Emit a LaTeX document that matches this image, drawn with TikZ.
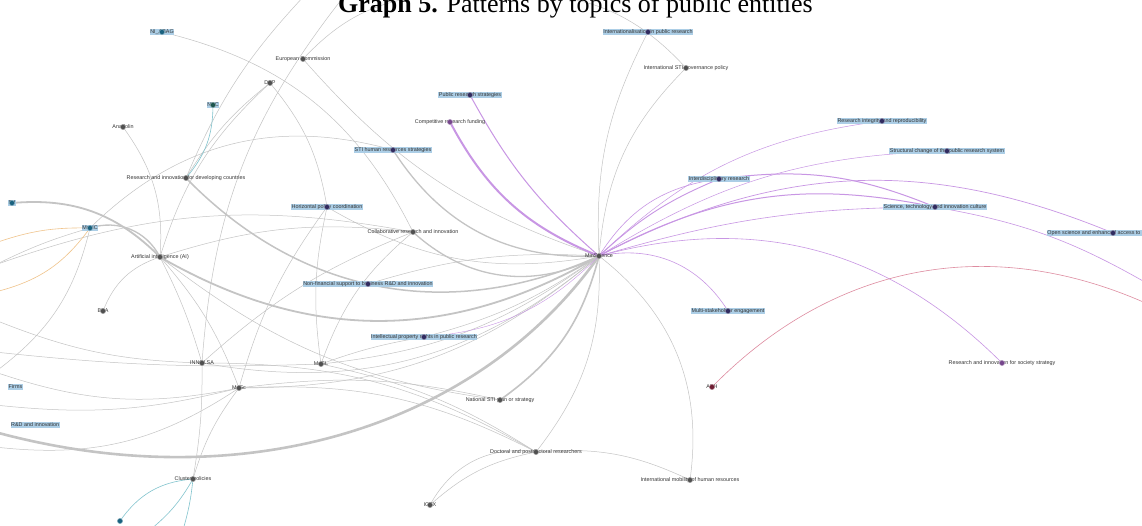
\documentclass[tikz,border=0pt]{standalone}
\usepackage{fontspec}
\setmainfont{Liberation Serif}
\newfontfamily\labelfont{Liberation Sans}
\usepackage{tikz}
\usetikzlibrary{backgrounds}

\definecolor{edgegray}{RGB}{196,196,196}
\definecolor{edgepurple}{RGB}{200,150,228}
\definecolor{edgeorange}{RGB}{240,196,140}
\definecolor{edgeteal}{RGB}{130,196,206}
\definecolor{edgepink}{RGB}{222,140,160}
\definecolor{hlblue}{RGB}{172,206,230}
\definecolor{dotgray}{RGB}{80,80,80}
\definecolor{dotnavy}{RGB}{48,44,96}
\definecolor{dotpurple}{RGB}{118,70,140}
\definecolor{dotteal}{RGB}{28,84,78}
\definecolor{dotblue}{RGB}{26,98,128}
\definecolor{dotred}{RGB}{112,30,52}

\begin{document}
\begin{tikzpicture}[x=1pt,y=-1pt,
        topic/.style={font=\labelfont\fontsize{5.4}{6}\selectfont, text=black!80, inner sep=0.6pt},
        hltopic/.style={topic, fill=hlblue},
        gedge/.style={draw=edgegray, line width=0.5pt},
        pedge/.style={draw=edgepurple, line width=0.6pt},
        oedge/.style={draw=edgeorange, line width=0.6pt},
        tedge/.style={draw=edgeteal, line width=0.6pt}]
    \useasboundingbox (0,0) rectangle (1142,525);
    \node[font=\fontsize{26}{30}\selectfont, anchor=base west, inner sep=0pt] (title) at (338,12) {\textbf{Graph 5.} Patterns by topics of public entities};

    % topics and entities
    \node[hltopic] (niabag) at (162,32) {NI\_ABAG};
    \node[topic] (eucom) at (303,59) {European Commission};
    \node[topic] (dsp) at (270,83) {DSP};
    \node[hltopic] (nsc) at (213,105) {NSC};
    \node[topic] (anad) at (123,127) {Anadolin};
    \node[topic] (rideveloping) at (186,178) {Research and innovation for developing countries};
    \node[hltopic] (stihr) at (393,150) {STI human resources strategies};
    \node[hltopic] (pubstrat) at (470,95) {Public research strategies};
    \node[topic] (compfund) at (450,122) {Competitive research funding};
    \node[hltopic] (intpub) at (648,32) {Internationalisation in public research};
    \node[topic] (intgov) at (686,68) {International STI governance policy};
    \node[hltopic] (integrity) at (882,121) {Research integrity and reproducibility};
    \node[hltopic] (structural) at (947,151) {Structural change of the public research system};
    \node[hltopic] (interdisc) at (719,179) {Interdisciplinary research};
    \node[hltopic] (culture) at (935,207) {Science, technology and innovation culture};
    \node[hltopic] (openscience) at (1113,233) {Open science and enhanced access to public research};
    \node[topic] (mins) at (599,256) {MinScience};
    \node[hltopic] (multi) at (728,311) {Multi-stakeholder engagement};
    \node[topic] (society) at (1002,363) {Research and innovation for society strategy};
    \node[topic] (aeh) at (712,387) {AEH};
    \node[hltopic] (horiz) at (327,207) {Horizontal policy coordination};
    \node[topic] (collab) at (413,232) {Collaborative research and innovation};
    \node[hltopic] (ed) at (12,203) {Ed};
    \node[hltopic] (mohc) at (90,228) {MoHC};
    \node[topic] (ai) at (160,257) {Artificial intelligence (AI)};
    \node[hltopic] (nonfin) at (368,284) {Non-financial support to business R\&D and innovation};
    \node[topic] (bsa) at (103,311) {BSA};
    \node[hltopic] (iprights) at (424,337) {Intellectual property rights in public research};
    \node[topic] (innolsa) at (202,363) {INNOLSA};
    \node[topic] (mosc) at (239,388) {MoSc};
    \node[topic] (mosl) at (321,364) {MoSL};
    \node[hltopic, anchor=east] (firms) at (23,387) {Firms};
    \node[hltopic, anchor=east] (rdinno) at (60,425) {R\&D and innovation};
    \node[topic] (natplan) at (500,400) {National STI plan or strategy};
    \node[topic] (doctoral) at (536,452) {Doctoral and postdoctoral researchers};
    \node[topic] (mobility) at (690,480) {International mobility of human resources};
    \node[topic] (icex) at (430,505) {ICEX};
    \node[topic] (cluster) at (193,479) {Cluster policies};
    \coordinate (tealdot) at (120,521);

    % loose ends leaving the frame
    \coordinate (topA) at (345,-5);
    \coordinate (topB) at (430,-5);
    \coordinate (topC) at (510,-5);
    \coordinate (topD) at (305,-5);
    \coordinate (lftA) at (-5,243);
    \coordinate (lftB) at (-5,292);
    \coordinate (lftC) at (-5,265);
    \coordinate (lftD) at (-5,352);
    \coordinate (lftE) at (-5,372);
    \coordinate (lftF) at (-5,405);
    \coordinate (lftG) at (-5,432);
    \coordinate (lftH) at (-5,447);
    \coordinate (lftI) at (-5,320);
    \coordinate (rgtA) at (1150,285);
    \coordinate (rgtB) at (1150,305);
    \coordinate (botA) at (150,530);
    \coordinate (botB) at (183,530);

    \begin{scope}[on background layer]
        \fill[white] (0,0) rectangle (1142,525);
        \clip (0,0) rectangle (1142,525);
        % thick links
        \draw[gedge, line width=2.6pt] (lftG) .. controls +(250,68) and +(-120,170) .. (mins.center);
        \draw[gedge, line width=1.8pt, bend right=30] (ai.center) to (mins.center);
        \draw[gedge, line width=1.8pt, bend left=25] (ed.center) to (ai.center);
        \draw[gedge, line width=1.5pt, bend right=35] (rideveloping.center) to (mins.center);
        \draw[gedge, line width=1.3pt, bend left=40] (mohc.center) to (ai.center);
        \draw[gedge, line width=1.3pt, bend right=35] (collab.center) to (mins.center);
        \draw[gedge, line width=1.3pt, bend right=30] (stihr.center) to (mins.center);
        \draw[gedge, line width=1.6pt, bend right=20] (natplan.center) to (mins.center);
        % thin links
        \draw[gedge, bend left=25] (niabag.center) to (collab.center);
        \draw[gedge, bend left=20] (eucom.center) to (topB);
        \draw[gedge, bend right=15] (eucom.center) to (mins.center);
        \draw[gedge, bend right=10] (dsp.center) to (rideveloping.center);
        \draw[gedge, bend left=15] (dsp.center) to (horiz.center);
        \draw[gedge, bend right=15] (dsp.center) to (ai.center);
        \draw[gedge, bend right=17] (topA) to (innolsa.center);
        \draw[gedge, bend right=10] (topD) to (rideveloping.center);
        \draw[gedge, bend left=20] (anad.center) to (ai.center);
        \draw[gedge, bend left=30] (mohc.center) to (stihr.center);
        \draw[gedge, bend left=15] (lftC) to (collab.center);
        \draw[gedge, bend left=12] (ai.center) to (collab.center);
        \draw[gedge, bend left=25] (bsa.center) to (ai.center);
        \draw[gedge, bend right=10] (horiz.center) to (mosc.center);
        \draw[gedge, bend right=10] (horiz.center) to (mosl.center);
        \draw[gedge, bend right=15] (collab.center) to (mosl.center);
        \draw[gedge, bend right=10] (collab.center) to (innolsa.center);
        \draw[gedge, bend right=20] (horiz.center) to (mins.center);
        \draw[gedge, bend left=10] (nonfin.center) to (mins.center);
        \draw[gedge, bend right=10] (iprights.center) to (mins.center);
        \draw[gedge, bend right=15] (mosl.center) to (mins.center);
        \draw[gedge, bend right=20] (mosc.center) to (mins.center);
        \draw[gedge, bend right=25] (innolsa.center) to (mins.center);
        \draw[gedge, bend right=20] (doctoral.center) to (mins.center);
        \draw[gedge, bend right=30] (mobility.center) to (mins.center);
        \draw[gedge, bend right=15] (intpub.center) to (mins.center);
        \draw[gedge, bend right=20] (intgov.center) to (mins.center);
        \draw[gedge, bend left=25] (topC) to (intgov.center);
        \draw[gedge, bend right=5] (mohc.center) to (lftC);
        \draw[gedge, bend left=20] (mohc.center) to (lftE);
        \draw[gedge, bend right=4] (lftD) to (mosl.center);
        \draw[gedge, bend right=15] (lftE) to (mosc.center);
        \draw[gedge, bend right=10] (lftF) to (mosc.center);
        \draw[gedge, bend right=20] (lftH) to (mosc.center);
        \draw[gedge, bend right=10] (lftI) to (innolsa.center);
        \draw[gedge, bend left=5] (innolsa.center) to (cluster.center);
        \draw[gedge, bend right=10] (mosc.center) to (cluster.center);
        \draw[gedge, bend left=10] (mosc.center) to (natplan.center);
        \draw[gedge, bend left=15] (mosc.center) to (doctoral.center);
        \draw[gedge, bend left=15] (innolsa.center) to (doctoral.center);
        \draw[gedge, bend left=10] (mosl.center) to (doctoral.center);
        \draw[gedge, bend left=5] (mosl.center) to (iprights.center);
        \draw[gedge, bend right=15] (ai.center) to (natplan.center);
        \draw[gedge, bend left=10] (ai.center) to (mosc.center);
        \draw[gedge, bend left=5] (ai.center) to (innolsa.center);
        \draw[gedge, bend left=15] (icex.center) to (doctoral.center);
        \draw[gedge, bend left=35] (icex.center) to (doctoral.center);
        \draw[gedge, bend left=15] (doctoral.center) to (mobility.center);
        % coloured links
        \draw[oedge, bend right=10] (mohc.center) to (lftA);
        \draw[oedge, bend left=20] (mohc.center) to (lftB);
        \draw[tedge, bend left=20] (nsc.center) to (rideveloping.center);
        \draw[tedge, bend right=25] (cluster.center) to (tealdot);
        \draw[tedge, bend left=10] (cluster.center) to (botA);
        \draw[tedge, bend left=5] (cluster.center) to (botB);
        \draw[pedge, line width=2pt, bend right=20] (compfund.center) to (mins.center);
        \draw[pedge, line width=1pt, bend right=10] (pubstrat.center) to (mins.center);
        \draw[pedge, line width=0.9pt, bend left=10] (mins.center) to (interdisc.center);
        \draw[pedge, bend left=25] (mins.center) to (interdisc.center);
        \draw[pedge, line width=1pt, bend left=15] (interdisc.center) to (culture.center);
        \draw[pedge, line width=1pt, bend left=20] (mins.center) to (culture.center);
        \draw[pedge, bend left=8] (mins.center) to (culture.center);
        \draw[pedge, line width=0.5pt, bend left=18] (mins.center) to (integrity.center);
        \draw[pedge, line width=0.5pt, bend left=15] (mins.center) to (structural.center);
        \draw[pedge, line width=0.7pt, bend left=25] (mins.center) to (openscience.center);
        \draw[pedge, bend left=30] (mins.center) to (society.center);
        \draw[pedge, bend left=35] (mins.center) to (multi.center);
        \draw[pedge, bend left=10] (culture.center) to (rgtA);
        \draw[pedge, line width=0.4pt, bend right=20] (iprights.center) to (mins.center);
        \draw[draw=edgepink, line width=0.6pt, bend left=35] (aeh.center) to (rgtB);
    \end{scope}

    % node dots
    \foreach \n/\c in {eucom/dotgray, dsp/dotgray, anad/dotgray, rideveloping/dotgray,
            intgov/dotgray, mins/dotgray, collab/dotgray, ai/dotgray, bsa/dotgray,
            innolsa/dotgray, mosc/dotgray, mosl/dotgray, natplan/dotgray, doctoral/dotgray,
            mobility/dotgray, icex/dotgray, cluster/dotgray, niabag/dotblue, mohc/dotblue,
            ed/dotblue, nsc/dotteal, tealdot/dotblue, stihr/dotnavy, pubstrat/dotnavy,
            intpub/dotnavy, integrity/dotnavy, structural/dotnavy, interdisc/dotnavy,
            culture/dotnavy, openscience/dotnavy, multi/dotnavy, horiz/dotnavy,
            nonfin/dotnavy, iprights/dotnavy, compfund/dotpurple, society/dotpurple,
            aeh/dotred}
        \filldraw[fill=\c, draw=\c!55!white, line width=0.5pt] (\n) circle (2.6);
\end{tikzpicture}
\end{document}
